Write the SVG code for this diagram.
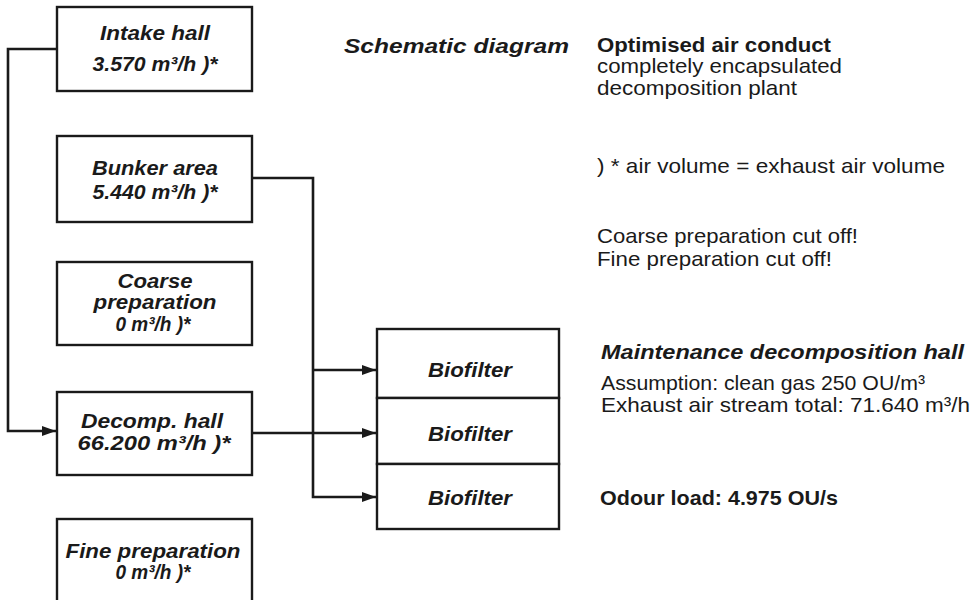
<svg xmlns="http://www.w3.org/2000/svg" width="973" height="600" viewBox="0 0 973 600">
<defs>
<style>
.box{fill:#fff;stroke:#1a1a1a;stroke-width:2.4}
.ln{fill:none;stroke:#1a1a1a;stroke-width:2.6}
.bt{font-family:"Liberation Sans",Arial,sans-serif;font-size:21px;font-weight:bold;font-style:italic;fill:#1a1a1a;text-anchor:middle}
.t{font-family:"Liberation Sans",Arial,sans-serif;font-size:21px;fill:#1a1a1a}
.b{font-weight:bold}
.bi{font-weight:bold;font-style:italic}
</style>
<marker id="arr" viewBox="0 0 14 10" refX="14" refY="5" markerWidth="14" markerHeight="10" markerUnits="userSpaceOnUse" orient="auto">
<path d="M0,0 L14,5 L0,10 Z" fill="#1a1a1a"/>
</marker>
</defs>
<rect width="973" height="600" fill="#fff"/>

<g id="connectors">
<path class="ln" d="M57,49 H8 V431 H56" marker-end="url(#arr)"/>
<path class="ln" d="M252,178 H313 V497 H376" marker-end="url(#arr)"/>
<path class="ln" d="M313,370 H376" marker-end="url(#arr)"/>
<path class="ln" d="M252,433 H376" marker-end="url(#arr)"/>
</g>

<g id="intake-hall">
<rect class="box" x="57" y="7" width="195" height="84"/>
<text class="bt" x="155" y="40" textLength="110" lengthAdjust="spacingAndGlyphs">Intake hall</text>
<text class="bt" x="155" y="71" textLength="125" lengthAdjust="spacingAndGlyphs">3.570 m³/h )*</text>
</g>

<g id="bunker-area">
<rect class="box" x="57" y="136" width="195" height="86"/>
<text class="bt" x="155" y="175" textLength="126" lengthAdjust="spacingAndGlyphs">Bunker area</text>
<text class="bt" x="155" y="199" textLength="125" lengthAdjust="spacingAndGlyphs">5.440 m³/h )*</text>
</g>

<g id="coarse-preparation">
<rect class="box" x="57" y="262" width="195" height="83"/>
<text class="bt" x="155" y="288" textLength="75" lengthAdjust="spacingAndGlyphs">Coarse</text>
<text class="bt" x="155" y="309" textLength="123" lengthAdjust="spacingAndGlyphs">preparation</text>
<text class="bt" x="153" y="331" textLength="75" lengthAdjust="spacingAndGlyphs">0 m³/h )*</text>
</g>

<g id="decomp-hall">
<rect class="box" x="57" y="392" width="195" height="83"/>
<text class="bt" x="152" y="428" textLength="142" lengthAdjust="spacingAndGlyphs">Decomp. hall</text>
<text class="bt" x="154" y="450" textLength="153" lengthAdjust="spacingAndGlyphs">66.200 m³/h )*</text>
</g>

<g id="fine-preparation">
<rect class="box" x="57" y="519" width="195" height="90"/>
<text class="bt" x="153" y="558" textLength="175" lengthAdjust="spacingAndGlyphs">Fine preparation</text>
<text class="bt" x="153" y="579" textLength="75" lengthAdjust="spacingAndGlyphs">0 m³/h )*</text>
</g>

<g id="biofilter-1">
<rect class="box" x="377" y="329" width="182" height="69"/>
<text class="bt" x="470" y="377" textLength="84" lengthAdjust="spacingAndGlyphs">Biofilter</text>
</g>
<g id="biofilter-2">
<rect class="box" x="377" y="398" width="182" height="66"/>
<text class="bt" x="470" y="441" textLength="84" lengthAdjust="spacingAndGlyphs">Biofilter</text>
</g>
<g id="biofilter-3">
<rect class="box" x="377" y="464" width="182" height="65"/>
<text class="bt" x="470" y="505" textLength="84" lengthAdjust="spacingAndGlyphs">Biofilter</text>
</g>

<g id="notes">
<text class="t bi" x="344" y="53" textLength="225" lengthAdjust="spacingAndGlyphs">Schematic diagram</text>
<text class="t b" x="597" y="52" textLength="234" lengthAdjust="spacingAndGlyphs">Optimised air conduct</text>
<text class="t" x="597" y="73" textLength="245" lengthAdjust="spacingAndGlyphs">completely encapsulated</text>
<text class="t" x="597" y="95" textLength="200" lengthAdjust="spacingAndGlyphs">decomposition plant</text>
<text class="t" x="597" y="173" textLength="348" lengthAdjust="spacingAndGlyphs">) * air volume = exhaust air volume</text>
<text class="t" x="597" y="243" textLength="261" lengthAdjust="spacingAndGlyphs">Coarse preparation cut off!</text>
<text class="t" x="597" y="266" textLength="235" lengthAdjust="spacingAndGlyphs">Fine preparation cut off!</text>
<text class="t bi" x="601" y="359" textLength="363" lengthAdjust="spacingAndGlyphs">Maintenance decomposition hall</text>
<text class="t" x="601" y="390" textLength="324" lengthAdjust="spacingAndGlyphs">Assumption: clean gas 250 OU/m³</text>
<text class="t" x="601" y="412" textLength="369" lengthAdjust="spacingAndGlyphs">Exhaust air stream total: 71.640 m³/h</text>
<text class="t b" x="600" y="505" textLength="238" lengthAdjust="spacingAndGlyphs">Odour load: 4.975 OU/s</text>
</g>
</svg>
